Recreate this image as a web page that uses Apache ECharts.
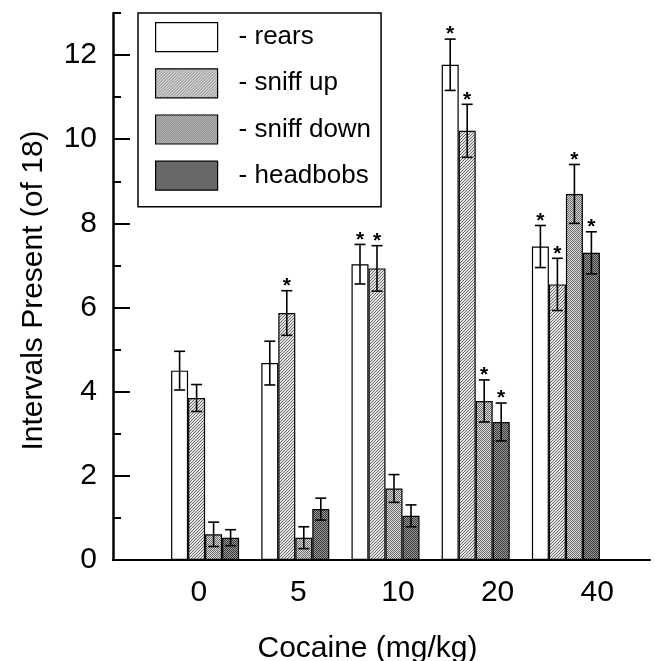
<!DOCTYPE html>
<html>
<head>
<meta charset="utf-8">
<script src="https://cdn.jsdelivr.net/npm/echarts@6/dist/echarts.min.js"></script>
<style>html,body{margin:0;padding:0;background:#fff}#chart{width:655px;height:661px}</style>
</head>
<body>
<div id="chart"></div>
<script>
// ---- data ----
const categories = ['0', '5', '10', '20', '40'];
const seriesNames = ['rears', 'sniff up', 'sniff down', 'headbobs'];
const rears = [4.50, 4.68, 7.03, 11.77, 7.45];
const rearsErr = [0.46, 0.52, 0.47, 0.61, 0.50];
const sniffUp = [3.85, 5.87, 6.93, 10.20, 6.55];
const sniffUpErr = [0.32, 0.53, 0.54, 0.63, 0.62];
const sniffDown = [0.61, 0.53, 1.70, 3.78, 8.70];
const sniffDownErr = [0.29, 0.26, 0.33, 0.50, 0.70];
const headbobs = [0.53, 1.21, 1.05, 3.28, 7.30];
const headbobsErr = [0.19, 0.26, 0.26, 0.45, 0.50];
const rearsSig = [0, 0, 1, 1, 1];
const sniffUpSig = [0, 1, 1, 1, 1];
const sniffDownSig = [0, 0, 0, 1, 1];
const headbobsSig = [0, 0, 0, 1, 1];
const yMajorTicks = [0, 2, 4, 6, 8, 10, 12];
const yMinorTicks = [1, 3, 5, 7, 9, 11, 13];
const yMax = 13;

// ---- styles ----
const FONT = 'Liberation Sans, Arial, Helvetica, sans-serif';
const BAR_W = 17;

function makePattern(w, h, draw) {
  const c = document.createElement('canvas');
  c.width = w; c.height = h;
  const ctx = c.getContext('2d');
  draw(ctx);
  return { image: c, repeat: 'repeat' };
}
const patUp = makePattern(3, 3, ctx => {
  ctx.fillStyle = '#e2e2e2'; ctx.fillRect(0, 0, 3, 3);
  ctx.fillStyle = '#6e6e6e';
  ctx.fillRect(0, 2, 1, 1); ctx.fillRect(1, 1, 1, 1); ctx.fillRect(2, 0, 1, 1);
});
const patDown = makePattern(2, 2, ctx => {
  ctx.fillStyle = '#dcdcdc'; ctx.fillRect(0, 0, 2, 2);
  ctx.fillStyle = '#6a6a6a';
  ctx.fillRect(0, 0, 1, 1); ctx.fillRect(1, 1, 1, 1);
});
const patHead = makePattern(2, 2, ctx => {
  ctx.fillStyle = '#9a9a9a'; ctx.fillRect(0, 0, 2, 2);
  ctx.fillStyle = '#383838';
  ctx.fillRect(0, 0, 1, 1); ctx.fillRect(1, 1, 1, 1);
});
const fills = ['#ffffff', patUp, patDown, patHead];

const means = [rears, sniffUp, sniffDown, headbobs];
const errs = [rearsErr, sniffUpErr, sniffDownErr, headbobsErr];
const sigs = [rearsSig, sniffUpSig, sniffDownSig, headbobsSig];

const barSeries = seriesNames.map((name, s) => ({
  name: name,
  type: 'bar',
  xAxisIndex: 0, yAxisIndex: 0,
  barWidth: BAR_W,
  barGap: '0%',
  data: means[s],
  itemStyle: { color: fills[s], borderColor: '#000', borderWidth: 1.2 },
  z: 2
}));

const errSeries = seriesNames.map((name, s) => ({
  name: name + ' err',
  type: 'custom',
  xAxisIndex: 0, yAxisIndex: 0,
  z: 5,
  silent: true,
  data: means[s].map((m, i) => [i, m, errs[s][i], sigs[s][i]]),
  renderItem: function (params, api) {
    const i = api.value(0), m = api.value(1), e = api.value(2), sg = api.value(3);
    const cx = api.coord([i, 0])[0] + (s - 1.5) * BAR_W;
    const yT = api.coord([i, m + e])[1];
    const yB = api.coord([i, m - e])[1];
    const st = { stroke: '#000', lineWidth: 1.6 };
    const children = [
      { type: 'line', shape: { x1: cx, y1: yT, x2: cx, y2: yB }, style: st },
      { type: 'line', shape: { x1: cx - 5.5, y1: yT, x2: cx + 5.5, y2: yT }, style: st },
      { type: 'line', shape: { x1: cx - 5.5, y1: yB, x2: cx + 5.5, y2: yB }, style: st }
    ];
    if (sg) {
      children.push({
        type: 'text',
        style: { text: '*', x: cx, y: yT + 6, align: 'center', verticalAlign: 'bottom',
                 font: 'bold 21px ' + FONT, fill: '#000' }
      });
    }
    return { type: 'group', children: children };
  }
}));

const chart = echarts.init(document.getElementById('chart'), null, { renderer: 'canvas' });
chart.setOption({
  animation: false,
  backgroundColor: '#fff',
  grid: [
    { left: 160, width: 451, top: 13, bottom: 101, outerBoundsMode: 'none', containLabel: false },
    { left: 149, width: 498, top: 13, bottom: 101, outerBoundsMode: 'none', containLabel: false },
    { left: 113, right: 5, top: 13, bottom: 101, outerBoundsMode: 'none', containLabel: false }
  ],
  legend: {
    data: seriesNames,
    orient: 'vertical',
    left: 138, top: 13,
    padding: [9, 10, 16, 17],
    itemWidth: 62, itemHeight: 29, itemGap: 16,
    icon: 'rect',
    borderColor: '#000', borderWidth: 1.5,
    itemStyle: { borderColor: '#000', borderWidth: 1.2 },
    formatter: '- {name}',
    selectedMode: false,
    textStyle: { fontFamily: FONT, fontSize: 26, color: '#000', padding: [6, 0, 0, 16] }
  },
  xAxis: [
    { gridIndex: 0, type: 'category', data: categories, show: false },
    { gridIndex: 1, type: 'category', data: categories,
      axisLine: { show: false }, axisTick: { show: false },
      axisLabel: { fontFamily: FONT, fontSize: 30, color: '#000', margin: 18 } },
    { gridIndex: 2, type: 'value', min: 0, max: 1,
      axisLine: { show: true, onZero: false, lineStyle: { color: '#000', width: 2 } },
      axisTick: { show: false }, axisLabel: { show: false }, splitLine: { show: false },
      name: 'Cocaine (mg/kg)', nameLocation: 'middle', nameGap: 74,
      nameTextStyle: { fontFamily: FONT, fontSize: 30, color: '#000', padding: [0, 28, 0, 0] } }
  ],
  yAxis: [
    { gridIndex: 0, type: 'value', min: 0, max: yMax, show: false },
    { gridIndex: 1, type: 'value', min: 0, max: yMax, show: false },
    { gridIndex: 2, type: 'value', min: 0, max: yMax, position: 'left',
      axisLine: { show: true, onZero: false, lineStyle: { color: '#000', width: 2.5 } },
      axisTick: { show: true, inside: true, length: 17, customValues: yMajorTicks,
                  lineStyle: { color: '#000', width: 2 } },
      axisLabel: { customValues: yMajorTicks, fontFamily: FONT, fontSize: 30, color: '#000', margin: 16 },
      splitLine: { show: false },
      name: 'Intervals Present (of 18)', nameLocation: 'middle', nameRotate: 90, nameGap: 64,
      nameTextStyle: { fontFamily: FONT, fontSize: 30, color: '#000', padding: [0, 8, 0, 0] } },
    { gridIndex: 2, type: 'value', min: 0, max: yMax, position: 'left', offset: 0,
      axisLine: { show: false, onZero: false },
      axisTick: { show: true, inside: true, length: 8, customValues: yMinorTicks,
                  lineStyle: { color: '#000', width: 2 } },
      axisLabel: { show: false }, splitLine: { show: false } }
  ],
  series: barSeries.concat(errSeries)
});
</script>
</body>
</html>
